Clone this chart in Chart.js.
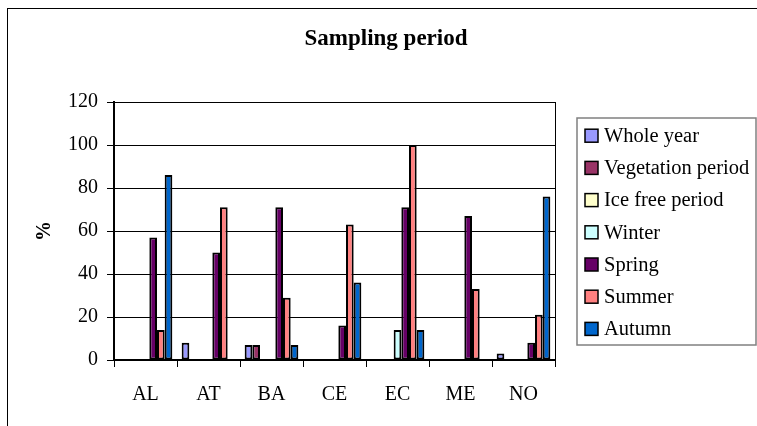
<!DOCTYPE html>
<html><head><meta charset="utf-8">
<script src="https://cdn.jsdelivr.net/npm/chart.js@4/dist/chart.umd.min.js"></script>
<style>html,body{margin:0;padding:0;background:#fff;}canvas{display:block;}</style>
</head><body>
<canvas id="c" width="757" height="426"></canvas>
<script>
const categories = ['AL','AT','BA','CE','EC','ME','NO'];
const wholeYear        = [0, 8, 7, 0, 0, 0, 3];
const vegetationPeriod = [0, 0, 7, 0, 0, 0, 0];
const iceFreePeriod    = [0, 0, 0, 0, 0, 0, 0];
const winter           = [0, 0, 0, 0, 14, 0, 0];
const spring           = [57, 50, 71, 16, 71, 67, 8];
const summer           = [14, 71, 29, 63, 100, 33, 21];
const autumn           = [86, 0, 7, 36, 14, 0, 76];
const seriesNames  = ['Whole year','Vegetation period','Ice free period','Winter','Spring','Summer','Autumn'];
const seriesColors = ['#9999FF','#993366','#FFFFCC','#CCFFFF','#660066','#FF8080','#0066CC'];
const yTicks = [0, 20, 40, 60, 80, 100, 120];
const titleText = 'Sampling period';
const yAxisTitle = '%';

const FONT = "'Liberation Serif','Times New Roman',serif";
const seriesData = [wholeYear, vegetationPeriod, iceFreePeriod, winter, spring, summer, autumn];

const decor = {
  id: 'decor',
  beforeDraw(chart) {
    const ctx = chart.ctx;
    ctx.save();
    ctx.fillStyle = '#fff';
    ctx.fillRect(0, 0, chart.width, chart.height);
    ctx.strokeStyle = '#000';
    ctx.lineWidth = 1;
    ctx.strokeRect(7.5, 8.5, chart.width + 20, chart.height + 20);
    ctx.restore();
  },
  afterDraw(chart) {
    const ctx = chart.ctx, a = chart.chartArea;
    ctx.save();
    ctx.strokeStyle = '#000';
    ctx.lineWidth = 1;
    const rx = Math.round(a.right) + 0.5;
    ctx.beginPath(); ctx.moveTo(rx, a.top); ctx.lineTo(rx, a.bottom); ctx.stroke();
    // title
    ctx.fillStyle = '#000';
    ctx.font = 'bold 23px ' + FONT;
    ctx.textAlign = 'center';
    ctx.textBaseline = 'middle';
    ctx.fillText(titleText, 386, 39);
    // legend
    ctx.strokeStyle = '#808080';
    ctx.lineWidth = 1.5;
    ctx.strokeRect(577, 118, 179, 227);
    ctx.font = '20.5px ' + FONT;
    ctx.textAlign = 'left';
    chart.data.datasets.forEach((ds, i) => {
      const cy = 135.7 + i * 32.2;
      ctx.fillStyle = ds.backgroundColor;
      ctx.fillRect(585, cy - 6.5, 13, 13);
      ctx.strokeStyle = '#000';
      ctx.lineWidth = 1.5;
      ctx.strokeRect(585, cy - 6.5, 13, 13);
      ctx.fillStyle = '#000';
      ctx.fillText(ds.label, 604, cy + 1);
    });
    ctx.restore();
  }
};

new Chart(document.getElementById('c'), {
  type: 'bar',
  data: {
    labels: categories,
    datasets: seriesNames.map((name, i) => ({
      label: name,
      data: seriesData[i],
      backgroundColor: seriesColors[i],
      borderColor: '#000',
      borderWidth: 2,
      borderSkipped: false,
      categoryPercentage: 0.852,
      barPercentage: 1
    }))
  },
  options: {
    responsive: false,
    devicePixelRatio: 1,
    animation: false,
    events: [],
    layout: { padding: { left: 0, top: 102, right: 202, bottom: 0 } },
    plugins: { legend: { display: false }, title: { display: false }, tooltip: { enabled: false } },
    scales: {
      x: {
        grid: { offset: true, drawOnChartArea: false, drawTicks: true, tickLength: 7, color: '#000', lineWidth: 1 },
        border: { color: '#000', width: 2, z: 1 },
        ticks: { color: '#000', font: { family: FONT, size: 20 }, padding: 16, maxRotation: 0 },
        afterFit(s) { s.height = 66; }
      },
      y: {
        min: 0, max: 120,
        afterBuildTicks(s) { s.ticks = yTicks.map(v => ({ value: v })); },
        grid: { color: '#000', lineWidth: 1, tickLength: 7 },
        border: { color: '#000', width: 2 },
        ticks: { color: '#000', font: { family: FONT, size: 20 }, padding: 9 },
        title: { display: true, text: yAxisTitle, color: '#000', font: { family: FONT, size: 20, weight: 'bold' }, padding: { top: 33, bottom: 0 } },
        afterFit(s) { s.width = 114; }
      }
    }
  },
  plugins: [decor]
});
</script>
</body></html>
